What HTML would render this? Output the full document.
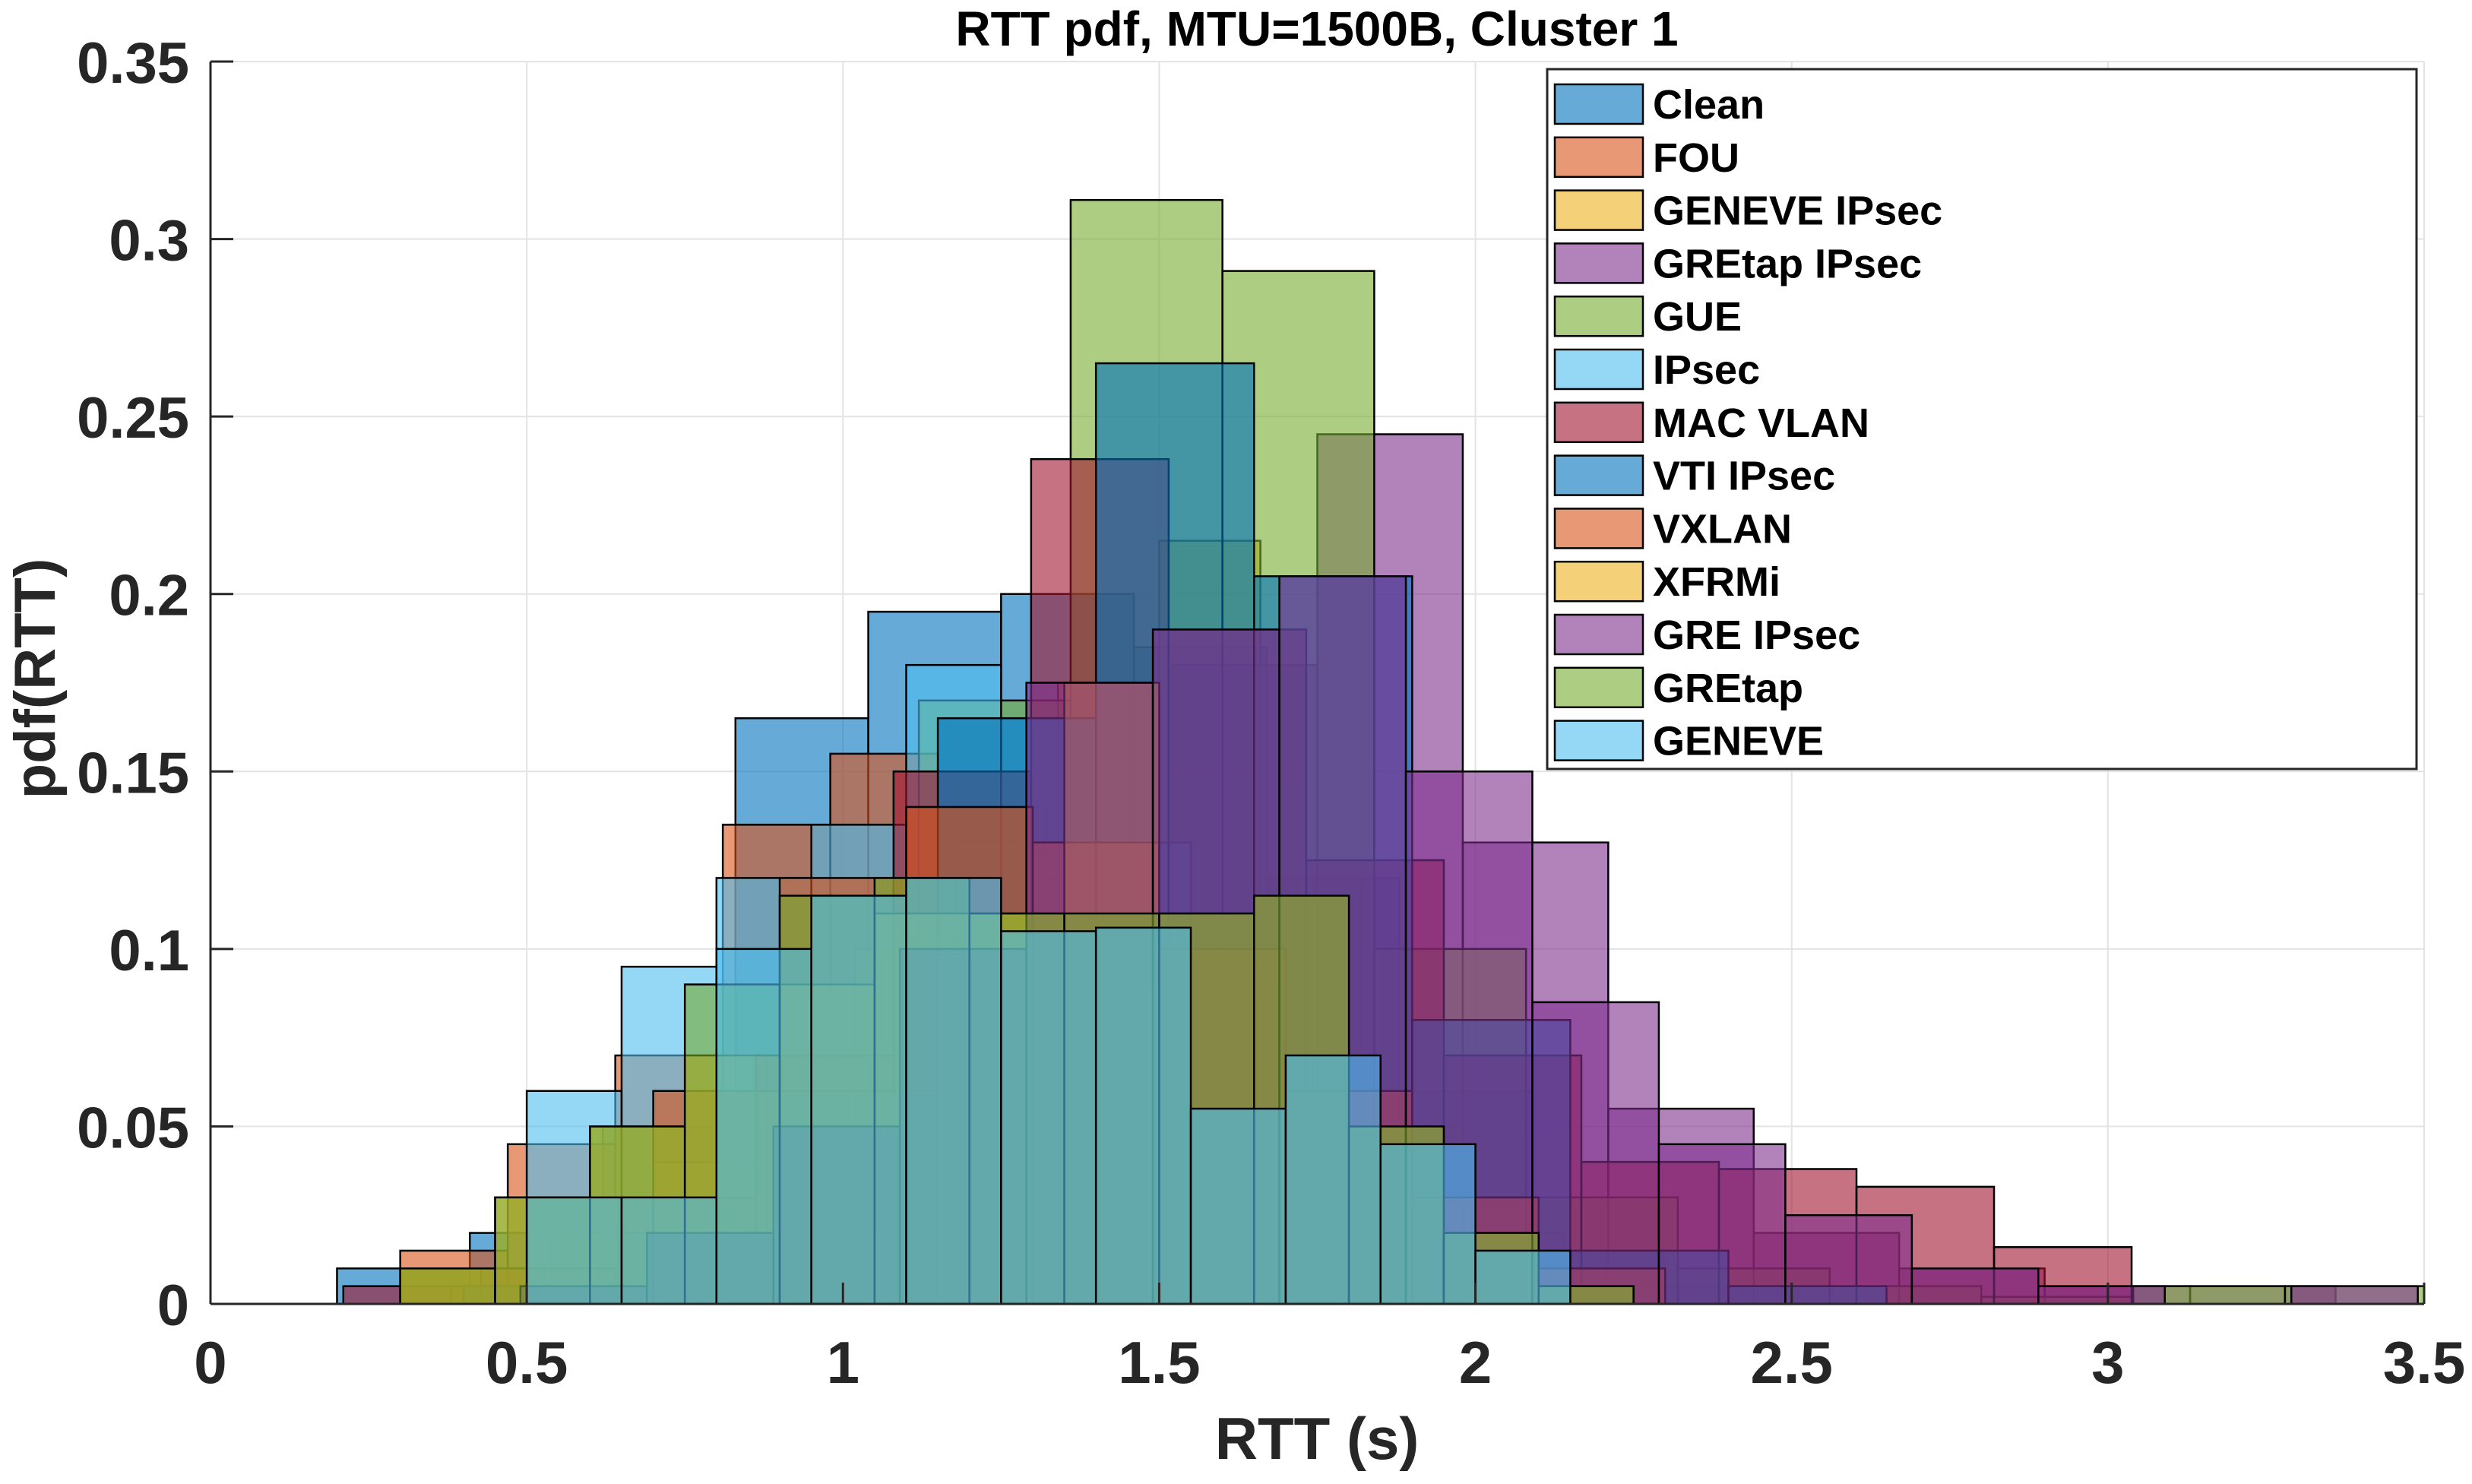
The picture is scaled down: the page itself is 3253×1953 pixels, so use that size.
<!DOCTYPE html>
<html><head><meta charset="utf-8">
<style>
html,body{margin:0;padding:0;background:#fff;}
svg{display:block;font-family:"Liberation Sans",sans-serif;}
</style></head>
<body>
<svg id="chart" width="3253" height="1953" viewBox="0 0 3253 1953" xmlns="http://www.w3.org/2000/svg">
<defs><clipPath id="plotclip"><rect x="277" y="70" width="2913" height="1660"/></clipPath></defs>
<rect width="3253" height="1953" fill="#fff"/>
<g id="grid"></g>
<g id="bars" clip-path="url(#plotclip)"></g>
<g id="axes"></g>
<text x="1733" y="60" font-size="64" font-weight="bold" text-anchor="middle" fill="#000">RTT pdf, MTU=1500B, Cluster 1</text>
<text x="1733" y="1920" font-size="78" font-weight="bold" text-anchor="middle" fill="#262626">RTT (s)</text>
<text transform="translate(72,893) rotate(-90)" font-size="76" font-weight="bold" text-anchor="middle" fill="#262626">pdf(RTT)</text>
<g id="legend"></g>
</svg>
<script>
// ---- data ----
const seriesNames = ["Clean","FOU","GENEVE IPsec","GREtap IPsec","GUE","IPsec","MAC VLAN","VTI IPsec","VXLAN","XFRMi","GRE IPsec","GREtap","GENEVE"];
const seriesColors = ["#0072BD","#D95319","#EDB120","#7E2F8E","#77AC30","#4DBEEE","#A2142F","#0072BD","#D95319","#EDB120","#7E2F8E","#77AC30","#4DBEEE"];
const binStarts = [0.20,0.30,0.38,0.37,0.40,0.50,0.21,0.40,0.30,0.30,0.49,0.30,0.50];
const binWidths = [0.21,0.17,0.16,0.23,0.24,0.15,0.2175,0.25,0.20,0.15,0.20,0.15,0.15];
const valsClean = [0.01,0.02,0.05,0.165,0.195,0.20,0.185,0.12,0.06,0.015,0.005];
const valsFOU = [0.015,0.045,0.07,0.135,0.155,0.14,0.12,0.09,0.06,0.03,0.01];
const valsGeneveIpsec = [0.005,0.02,0.04,0.07,0.10,0.13,0.175,0.215,0.12,0.05,0.02,0.005];
const valsGretapIpsec = [0,0.005,0.02,0.05,0.10,0.18,0.245,0.13,0.055,0.02,0.01,0.005,0.005];
const valsGUE = [0.005,0.02,0.07,0.17,0.311,0.291,0.10,0.03,0.01,0.005,0.002,0.005,0.005];
const valsIpsec = [0.06,0.095,0.12,0.135,0.18,0.165,0.13,0.09,0.05,0.02,0.005];
const valsMacvlan = [0.005,0.01,0.03,0.07,0.15,0.238,0.19,0.125,0.07,0.04,0.038,0.033,0.016];
const valsVti = [0.005,0.02,0.06,0.165,0.265,0.205,0.08,0.015,0.005];
const valsVxlan = [0.01,0.03,0.06,0.12,0.14,0.13,0.10,0.06,0.03,0.01];
const valsXfrmi = [0.01,0.03,0.05,0.07,0.09,0.11,0.11,0.175,0.11,0.115,0.05,0.02,0.005];
const valsGreIpsec = [0.005,0.02,0.05,0.10,0.175,0.19,0.205,0.15,0.085,0.045,0.025,0.01,0.005,0,0.005];
const valsGretap = [0.01,0.03,0.05,0.09,0.115,0.12,0.11,0.11,0.11,0.115,0.05,0.02,0.005];
const valsGeneve = [0.03,0.03,0.10,0.115,0.12,0.105,0.106,0.055,0.07,0.045,0.015];
const seriesValues = [valsClean,valsFOU,valsGeneveIpsec,valsGretapIpsec,valsGUE,valsIpsec,valsMacvlan,valsVti,valsVxlan,valsXfrmi,valsGreIpsec,valsGretap,valsGeneve];
const xTicks = [0,0.5,1,1.5,2,2.5,3,3.5];
const xTickLabels = ["0","0.5","1","1.5","2","2.5","3","3.5"];
const yTicks = [0,0.05,0.1,0.15,0.2,0.25,0.3,0.35];
const yTickLabels = ["0","0.05","0.1","0.15","0.2","0.25","0.3","0.35"];

// ---- layout ----
const L=277,R=3190,T=81,B=1716,XMAX=3.5,YMAX=0.35;
const xs=v=>L+(v/XMAX)*(R-L);
const ys=v=>B-(v/YMAX)*(B-T);
const NS="http://www.w3.org/2000/svg";
function mk(tag,parent){const e=document.createElementNS(NS,tag);parent.appendChild(e);return e;}

const grid=document.getElementById('grid');
xTicks.forEach((t,i)=>{const l=mk('line',grid);


l.setAttribute('x1',xs(t));l.setAttribute('x2',xs(t));l.setAttribute('y1',T);l.setAttribute('y2',B);
l.setAttribute('stroke','#e3e3e3');l.setAttribute('stroke-width','2');});
yTicks.forEach((t,i)=>{const l=mk('line',grid);


l.setAttribute('x1',L);l.setAttribute('x2',R);l.setAttribute('y1',ys(t));l.setAttribute('y2',ys(t));
l.setAttribute('stroke','#e3e3e3');l.setAttribute('stroke-width','2');});

const bars=document.getElementById('bars');
seriesValues.forEach((vals,s)=>{
  vals.forEach((v,k)=>{
    if(v<=0)return;
    const x0=binStarts[s]+k*binWidths[s], x1=x0+binWidths[s];
    const r=mk('rect',bars);
    
    
    r.setAttribute('x',xs(x0));r.setAttribute('width',xs(x1)-xs(x0));
    r.setAttribute('y',ys(v));r.setAttribute('height',B-ys(v));
    r.setAttribute('fill',seriesColors[s]);r.setAttribute('fill-opacity','0.6');
    r.setAttribute('stroke','#000');r.setAttribute('stroke-width','2.5');
  });
});

const axes=document.getElementById('axes');
[[L,T,L,B],[L,B,R,B]].forEach(c=>{const l=mk('line',axes);


l.setAttribute('x1',c[0]);l.setAttribute('y1',c[1]);l.setAttribute('x2',c[2]);l.setAttribute('y2',c[3]);
l.setAttribute('stroke','#262626');l.setAttribute('stroke-width','3');});
xTicks.forEach((t,i)=>{
  const tk=mk('line',axes);
  
  
  tk.setAttribute('x1',xs(t));tk.setAttribute('x2',xs(t));tk.setAttribute('y1',B);tk.setAttribute('y2',B-28);
  tk.setAttribute('stroke','#262626');tk.setAttribute('stroke-width','3');
  const tx=mk('text',axes);
  
  
  tx.setAttribute('x',xs(t));tx.setAttribute('y',1820);tx.setAttribute('text-anchor','middle');
  tx.setAttribute('font-size','78');tx.setAttribute('font-weight','bold');tx.setAttribute('fill','#262626');
  tx.textContent=xTickLabels[i];
});
yTicks.forEach((t,i)=>{
  const tk=mk('line',axes);
  
  
  tk.setAttribute('x1',L);tk.setAttribute('x2',L+30);tk.setAttribute('y1',ys(t));tk.setAttribute('y2',ys(t));
  tk.setAttribute('stroke','#262626');tk.setAttribute('stroke-width','3');
  const tx=mk('text',axes);
  
  
  tx.setAttribute('x',L-28);tx.setAttribute('y',ys(t)+28);tx.setAttribute('text-anchor','end');
  tx.setAttribute('font-size','76');tx.setAttribute('font-weight','bold');tx.setAttribute('fill','#262626');
  tx.textContent=yTickLabels[i];
});

const leg=document.getElementById('legend');
const box=mk('rect',leg);


box.setAttribute('x',2036);box.setAttribute('y',91);box.setAttribute('width',1144);box.setAttribute('height',921);
box.setAttribute('fill','#fff');box.setAttribute('stroke','#262626');box.setAttribute('stroke-width','3');
seriesNames.forEach((n,i)=>{
  const cy=137+i*69.8;
  const sw=mk('rect',leg);
  
  
  sw.setAttribute('x',2046);sw.setAttribute('y',cy-26);sw.setAttribute('width',116);sw.setAttribute('height',52);
  sw.setAttribute('fill',seriesColors[i]);sw.setAttribute('fill-opacity','0.6');sw.setAttribute('stroke','#000');sw.setAttribute('stroke-width','2.5');
  const tx=mk('text',leg);
  
  
  tx.setAttribute('x',2175);tx.setAttribute('y',cy+19);
  tx.setAttribute('font-size','54');tx.setAttribute('font-weight','bold');tx.setAttribute('fill','#000');
  tx.textContent=n;
});
</script>
</body></html>
